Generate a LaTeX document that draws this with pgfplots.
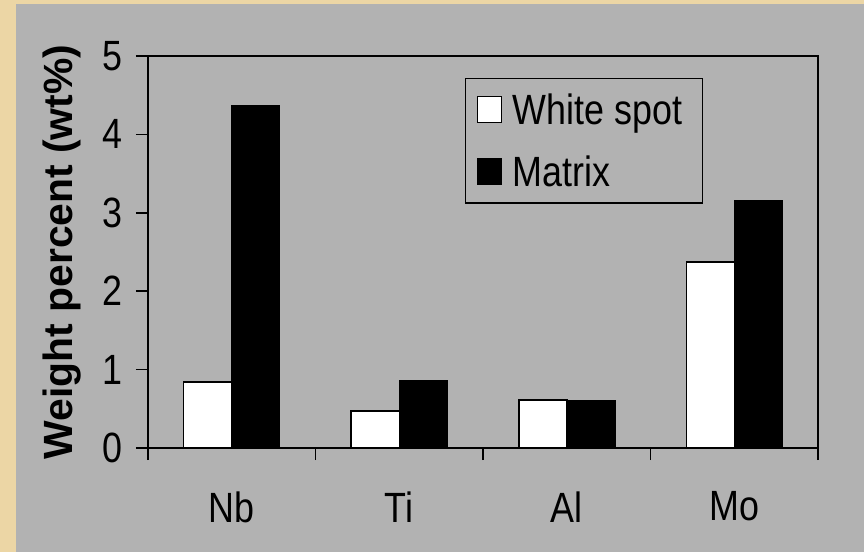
\documentclass[border=0pt]{standalone}
\usepackage{fontspec}
\setmainfont{Liberation Sans}
\usepackage{graphicx}
\usepackage{pgfplots}
\pgfplotsset{compat=1.18}
\definecolor{beige}{RGB}{236,214,165}
\definecolor{panel}{RGB}{178,178,178}
\newcommand\st[1]{\scalebox{1}[1.18]{#1}}
\begin{document}
\begin{tikzpicture}
\useasboundingbox (-148bp,-104bp) rectangle (716bp,448bp);
\fill[beige] (-148bp,-104bp) rectangle (716bp,448bp);
\fill[panel] (-132bp,-104bp) rectangle (716bp,444bp);
\begin{axis}[
  at={(0,0)}, anchor=south west, scale only axis,
  width=670bp, height=392bp,
  ybar=0pt, bar width=48bp,
  xmin=-0.5, xmax=3.5, ymin=0, ymax=5,
  xtick={0,1,2,3}, xticklabels={\st{Nb},\st{Ti},\st{Al},\st{Mo}},
  major x tick style={draw=none},
  minor xtick={-0.5,0.5,1.5,2.5,3.5},
  ytick={0,1,2,3,4,5},
  yticklabel={\st{\pgfmathprintnumber{\tick}}},
  /pgf/number format/assume math mode=true,
  tick align=outside, xtick pos=bottom, ytick pos=left,
  major tick length=12bp, minor tick length=12bp,
  axis line style={line width=1.5bp},
  every tick/.style={line width=1.5bp, black},
  ticklabel style={font=\fontsize{36}{40}\selectfont},
  xticklabel style={yshift=-28bp},
  yticklabel style={xshift=-10bp},
  ylabel={Weight percent (wt\%)},
  ylabel style={font=\fontsize{41}{45}\selectfont\bfseries, at={(axis description cs:-0.128,0.5)}, anchor=center},
  legend style={at={(0.473,0.944)}, anchor=north west, draw=black, line width=1.3bp, fill=none,
    font=\fontsize{36}{40}\selectfont, row sep=26bp, inner xsep=4bp, inner ysep=13bp},
  legend cell align=left,
  legend image code/.code={\path (0bp,0bp); \draw[#1, line width=1.3bp] (7bp,-13bp) rectangle (31bp,13bp);},
]
\addplot[fill=white, draw=black, line width=1.5bp] coordinates {(0,0.84) (1,0.47) (2,0.61) (3,2.37)};
\addplot[fill=black, draw=black, line width=1.5bp] coordinates {(0,4.36) (1,0.855) (2,0.60) (3,3.16)};
\legend{\hspace*{9bp}\st{White spot}\hspace*{14bp},\hspace*{9bp}\st{Matrix}}
\end{axis}
\end{tikzpicture}
\end{document}
